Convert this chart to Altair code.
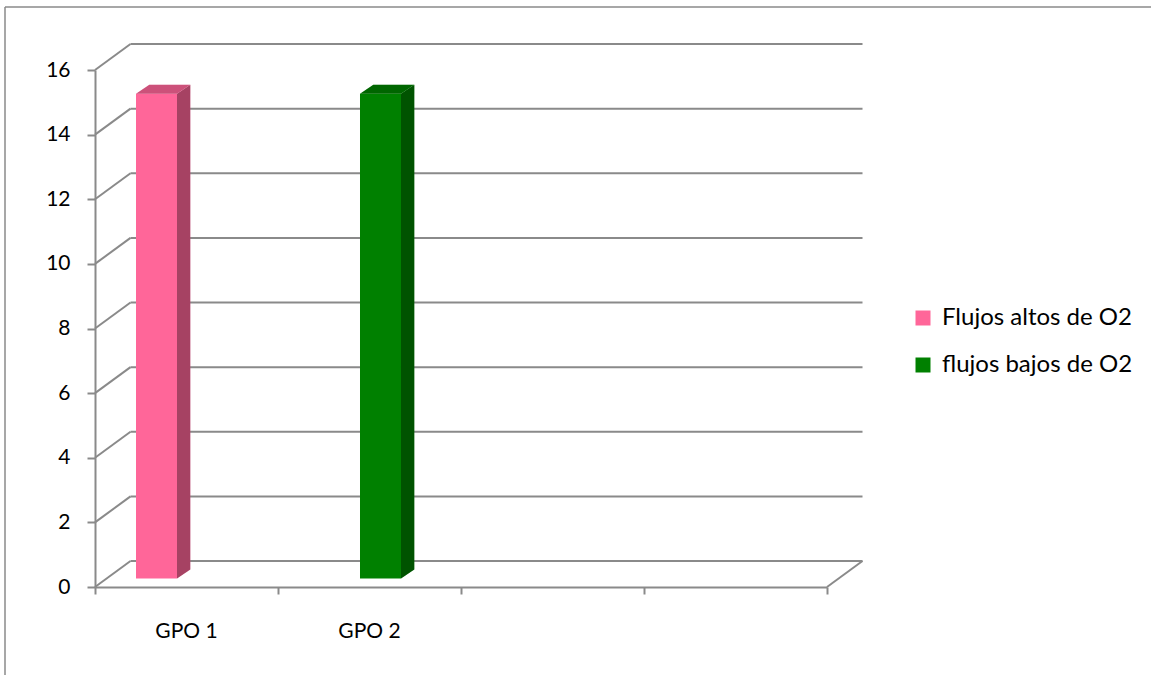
import altair as alt
import pandas as pd

# ---- data -------------------------------------------------------------
categories = ["GPO 1", "GPO 2", "", ""]
series_names = ["Flujos altos de O2", "flujos bajos de O2"]
altos = [15, None, None, None]
bajos = [None, 15, None, None]
series_values = [altos, bajos]
series_colors = ["#FF6699", "#008000"]
y_ticks = [0, 2, 4, 6, 8, 10, 12, 14, 16]

# ---- geometry of the oblique 3-D frame --------------------------------
W, H = 732, 517                 # front plane of the plot
N = len(categories)
Y_MAX = 16
UX = W / N                      # pixels per category slot
UY = H / Y_MAX                  # pixels per value unit

WALL_DX, WALL_DY = 35.5, 26.0   # depth of the back wall (px)
FRONT_DX, FRONT_DY = 12.0, 8.5  # how far back the column front sits (px)
DEPTH_DX, DEPTH_DY = 13.3, 9.0  # depth of each column (px)
BAR_START = 0.1585              # first column's left edge inside a slot
BAR_W = 0.224                   # column width in slot units

GRAY = "#8a8a8a"
FONT = "Lato"
FS = 21
LEGEND_FS = 24


def ddx(px):
    return px / UX


def ddy(px):
    return px / UY


# ---- back wall, floor and side-wall lines -----------------------------
wall_rows = []
for v in y_ticks:
    # horizontal line on the back wall
    wall_rows.append(dict(x=ddx(WALL_DX), x2=N + ddx(WALL_DX),
                          y=v + ddy(WALL_DY), y2=v + ddy(WALL_DY)))
    # receding line from the value axis to the back wall
    wall_rows.append(dict(x=0, x2=ddx(WALL_DX), y=v, y2=v + ddy(WALL_DY)))
# right edge of the floor
wall_rows.append(dict(x=N, x2=N + ddx(WALL_DX), y=0, y2=ddy(WALL_DY)))
wall = pd.DataFrame(wall_rows)

# ---- columns -----------------------------------------------------------
front_rows, side_rows, top_rows = [], [], []
for s, (name, vals) in enumerate(zip(series_names, series_values)):
    for i, val in enumerate(vals):
        if val is None:
            continue
        bid = f"{s}-{i}"
        left = i + BAR_START + s * BAR_W + ddx(FRONT_DX)
        right = left + BAR_W
        bottom = ddy(FRONT_DY)
        top = val + ddy(FRONT_DY)
        front_rows.append(dict(series=name, left=left, right=right,
                               bottom=bottom, top=top))
        side_rows += [
            dict(bar=bid, series=name, x=right, y=top, y2=bottom),
            dict(bar=bid, series=name, x=right + ddx(DEPTH_DX),
                 y=top + ddy(DEPTH_DY), y2=bottom + ddy(DEPTH_DY)),
        ]
        top_rows += [
            dict(bar=bid, series=name, y=top, x=left, x2=right),
            dict(bar=bid, series=name, y=top + ddy(DEPTH_DY),
                 x=left + ddx(DEPTH_DX), x2=right + ddx(DEPTH_DX)),
        ]
front = pd.DataFrame(front_rows)
side = pd.DataFrame(side_rows)
topf = pd.DataFrame(top_rows)

labels = pd.DataFrame({"cat": categories,
                       "pos": [i + 0.5 for i in range(N)],
                       "base": [0] * N})

# ---- scales and axes ---------------------------------------------------
xs = alt.Scale(domain=[0, N], nice=False, zero=False)
ys = alt.Scale(domain=[0, Y_MAX], nice=False)

x_axis = alt.Axis(values=list(range(N + 1)), labels=False, tickSize=7,
                  tickColor=GRAY, tickWidth=2, domainColor=GRAY,
                  domainWidth=2, grid=False, title=None)
y_axis = alt.Axis(values=y_ticks, tickSize=8, tickColor=GRAY, tickWidth=2,
                  domainColor=GRAY, domainWidth=2, grid=False, title=None,
                  labelFont=FONT, labelFontSize=FS, labelColor="black",
                  labelPadding=17)


def X(field):
    return alt.X(field, scale=xs, axis=x_axis)


def Y(field):
    return alt.Y(field, scale=ys, axis=y_axis)


color = alt.Color("series:N",
                  scale=alt.Scale(domain=series_names, range=series_colors),
                  legend=alt.Legend(orient="none", legendX=816, legendY=236,
                                    title=None, symbolType="square",
                                    symbolSize=225, symbolStrokeWidth=0,
                                    labelFont=FONT, labelFontSize=LEGEND_FS,
                                    labelColor="black", labelLimit=0,
                                    rowPadding=23, labelOffset=7, padding=0))

wall_layer = alt.Chart(wall).mark_rule(color=GRAY, strokeWidth=2).encode(
    x=X("x:Q"), x2="x2:Q", y=Y("y:Q"), y2="y2:Q",
)

front_layer = alt.Chart(front).mark_rect().encode(
    x=X("left:Q"), x2="right:Q", y=Y("bottom:Q"), y2="top:Q", color=color,
)

side_layer = alt.Chart(side).mark_area(orient="vertical").encode(
    x=X("x:Q"), y=Y("y:Q"), y2="y2:Q", detail="bar:N",
    color=alt.Color("series:N", legend=None),
)
side_shade = alt.Chart(side).mark_area(orient="vertical", color="black",
                                       opacity=0.35).encode(
    x=X("x:Q"), y=Y("y:Q"), y2="y2:Q", detail="bar:N",
)

top_layer = alt.Chart(topf).mark_area(orient="horizontal").encode(
    y=Y("y:Q"), x=X("x:Q"), x2="x2:Q", detail="bar:N",
    color=alt.Color("series:N", legend=None),
)
top_shade = alt.Chart(topf).mark_area(orient="horizontal", color="black",
                                      opacity=0.2).encode(
    y=Y("y:Q"), x=X("x:Q"), x2="x2:Q", detail="bar:N",
)

cat_labels = alt.Chart(labels).mark_text(
    font=FONT, fontSize=FS, color="black", baseline="alphabetic", dy=51
).encode(
    x=X("pos:Q"), y=Y("base:Q"), text="cat:N",
)

# outer frame of the chart area
one = pd.DataFrame({"k": [0]})
frame_left = alt.Chart(one).mark_rule(color=GRAY, strokeWidth=1.5).encode(
    x=alt.value(-90), y=alt.value(-63), y2=alt.value(605))
frame_top = alt.Chart(one).mark_rule(color=GRAY, strokeWidth=1.5).encode(
    x=alt.value(-90), x2=alt.value(1056), y=alt.value(-63))

chart = alt.layer(
    frame_left, frame_top, wall_layer, front_layer, side_layer, side_shade,
    top_layer, top_shade, cat_labels,
).properties(
    width=W, height=H,
    padding={"left": 95, "top": 70, "right": 324, "bottom": 88},
    autosize=alt.AutoSizeParams(type="none"),
    background="white",
).configure_view(stroke=None)

chart.save("out.html", embed_options={"renderer": "svg", "actions": False})
